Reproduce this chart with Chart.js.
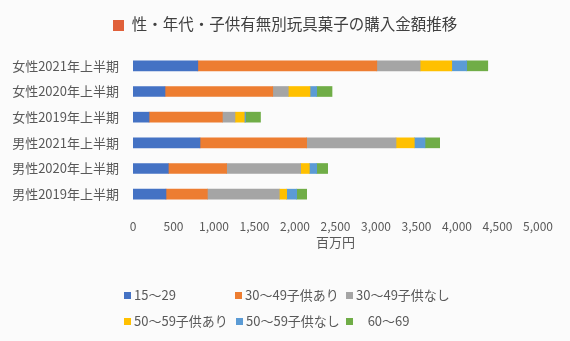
<!DOCTYPE html>
<html><head><meta charset="utf-8">
<script src="https://cdn.jsdelivr.net/npm/chart.js@4/dist/chart.umd.min.js"></script>
<style>
html,body{margin:0;padding:0;background:#fbfbfb;}
#wrap{position:relative;width:570px;height:341px;overflow:hidden;font-family:"Noto Sans CJK JP","Noto Sans",sans-serif;}
#title{position:absolute;left:0;top:12px;width:570px;text-align:center;font-size:15.5px;color:#404040;line-height:22px;}
#title .sq{display:inline-block;width:11px;height:11px;background:#e0603a;margin-right:8px;vertical-align:-1px;}
canvas{position:absolute;left:0;top:0;}
.lg{position:absolute;font-size:13px;color:#595959;line-height:16px;white-space:pre;}
.lg .b{display:inline-block;width:7px;height:7px;margin-right:3px;vertical-align:1px;}
</style></head>
<body><div id="wrap">
<canvas id="c" width="570" height="341"></canvas>
<div id="title"><span class="sq"></span>性・年代・子供有無別玩具菓子の購入金額推移</div>
<div id="legend"></div>
</div>
<script>
const categories = ['女性2021年上半期','女性2020年上半期','女性2019年上半期','男性2021年上半期','男性2020年上半期','男性2019年上半期'];
const seriesNames = ['15～29','30～49子供あり','30～49子供なし','50～59子供あり','50～59子供なし','    60～69'];
const s15_29    = [800, 395, 198, 827, 436, 407];
const s30_49yes = [2210, 1330, 905, 1317, 720, 511];
const s30_49no  = [535, 192, 156, 1103, 914, 888];
const s50_59yes = [390, 268, 115, 226, 107, 91];
const s50_59no  = [185, 83, 15, 132, 91, 124];
const s60_69    = [260, 189, 185, 181, 135, 123];
const xTicks = [0,500,1000,1500,2000,2500,3000,3500,4000,4500,5000];
const axisTitle = '百万円';

const colors = ['#4472C4','#ED7D31','#A5A5A5','#FFC000','#5B9BD5','#70AD47'];
const values = [s15_29, s30_49yes, s30_49no, s50_59yes, s50_59no, s60_69];
const font = '"Noto Sans CJK JP","Noto Sans",sans-serif';

new Chart(document.getElementById('c'), {
  type: 'bar',
  data: {
    labels: categories,
    datasets: values.map((v,i)=>({label: seriesNames[i], data: v, backgroundColor: colors[i], barThickness: 10, borderWidth: 0}))
  },
  options: {
    indexAxis: 'y',
    responsive: false,
    animation: false,
    layout: {padding: {left: 0, right: 32, top: 53, bottom: 91}},
    plugins: {legend: {display: false}, title: {display: false}, tooltip: {enabled: false}},
    scales: {
      x: {
        stacked: true, min: 0, max: 5000,
        afterBuildTicks: s => { s.ticks = xTicks.map(v=>({value:v})); },
        afterFit: s => { s.height = 43; },
        grid: {display: false, drawTicks: false}, border: {display: false},
        ticks: {padding: 12, color: '#595959', font: {family: font, size: 12}, callback: v => v.toLocaleString('en-US'), maxRotation: 0, autoSkip: false},
        title: {display: true, text: axisTitle, color: '#595959', font: {family: font, size: 13}, padding: {top: 0, bottom: 0}}
      },
      y: {
        stacked: true,
        afterFit: s => { s.width = 133; },
        grid: {display: false, drawTicks: false}, border: {display: false},
        ticks: {padding: 14, color: '#595959', font: {family: font, size: 13}}
      }
    }
  }
});

// HTML legend built from the series
const lgPos = [[124,287],[235,287],[346,287],[124,313],[236,313],[346,313]];
const lg = document.getElementById('legend');
seriesNames.forEach((n,i)=>{
  const d = document.createElement('div');
  d.className = 'lg';
  d.style.left = lgPos[i][0]+'px';
  d.style.top = lgPos[i][1]+'px';
  d.innerHTML = '<span class="b" style="background:'+colors[i]+'"></span>'+n;
  lg.appendChild(d);
});
</script>
</body></html>
